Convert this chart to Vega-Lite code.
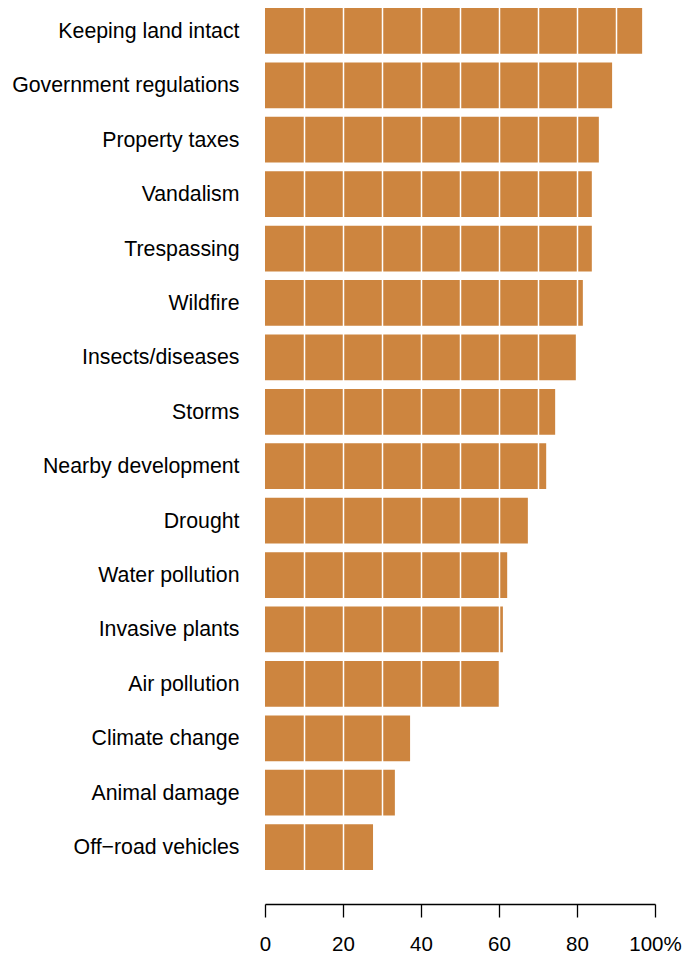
{
  "$schema": "https://vega.github.io/schema/vega-lite/v6.json",
  "width": 390,
  "height": 878,
  "autosize": {"type": "none"},
  "padding": {"left": 265, "top": 0, "right": 44, "bottom": 75},
  "background": "white",
  "config": {"view": {"stroke": null}},
  "data": {
    "values": [
      {"concern": "Keeping land intact", "pct": 96.7},
      {"concern": "Government regulations", "pct": 89.0},
      {"concern": "Property taxes", "pct": 85.6},
      {"concern": "Vandalism", "pct": 83.8},
      {"concern": "Trespassing ", "pct": 83.8},
      {"concern": "Wildfire", "pct": 81.5},
      {"concern": "Insects/diseases", "pct": 79.7},
      {"concern": "Storms", "pct": 74.4},
      {"concern": "Nearby development ", "pct": 72.1},
      {"concern": "Drought", "pct": 67.4},
      {"concern": "Water pollution", "pct": 62.1},
      {"concern": "Invasive plants", "pct": 61.0},
      {"concern": "Air pollution", "pct": 60.1},
      {"concern": "Climate change", "pct": 37.2},
      {"concern": "Animal damage", "pct": 33.3},
      {"concern": "Off−road vehicles", "pct": 27.7}
    ]
  },
  "layer": [
    {
      "mark": {"type": "bar", "color": "#CD853F"},
      "encoding": {
        "y": {
          "field": "concern",
          "type": "nominal",
          "sort": null,
          "scale": {"paddingInner": 0.16, "paddingOuter": 0.147},
          "axis": {
            "title": null,
            "domain": false,
            "ticks": false,
            "tickSize": 0,
            "labelPadding": 26,
            "labelOffset": 1,
            "labelFont": "Liberation Sans",
            "labelFontSize": 21.3,
            "labelColor": "black",
            "labelLimit": 400
          }
        },
        "x": {
          "field": "pct",
          "type": "quantitative",
          "scale": {"domain": [0, 100], "nice": false, "zero": true},
          "axis": {
            "orient": "bottom",
            "title": null,
            "grid": false,
            "values": [0, 20, 40, 60, 80, 100],
            "labelExpr": "datum.value == 100 ? '100%' : datum.label",
            "offset": 26,
            "tickSize": 13,
            "labelPadding": 17,
            "domainColor": "black",
            "tickColor": "black",
            "domainWidth": 1.3,
            "tickWidth": 1.3,
            "labelFont": "Liberation Sans",
            "labelFontSize": 20.5,
            "labelColor": "black",
            "labelFlush": false,
            "labelOverlap": false
          }
        }
      }
    },
    {
      "mark": {"type": "bar", "opacity": 0},
      "encoding": {
        "y": {"field": "concern", "type": "nominal", "sort": null},
        "x": {
          "field": "pct",
          "type": "quantitative",
          "axis": {
            "orient": "top",
            "title": null,
            "grid": true,
            "values": [10, 20, 30, 40, 50, 60, 70, 80, 90],
            "labels": false,
            "ticks": false,
            "domain": false,
            "gridColor": "white",
            "gridWidth": 1.5,
            "gridOpacity": 1,
            "zindex": 1
          }
        }
      }
    }
  ],
  "resolve": {"axis": {"x": "independent"}}
}
